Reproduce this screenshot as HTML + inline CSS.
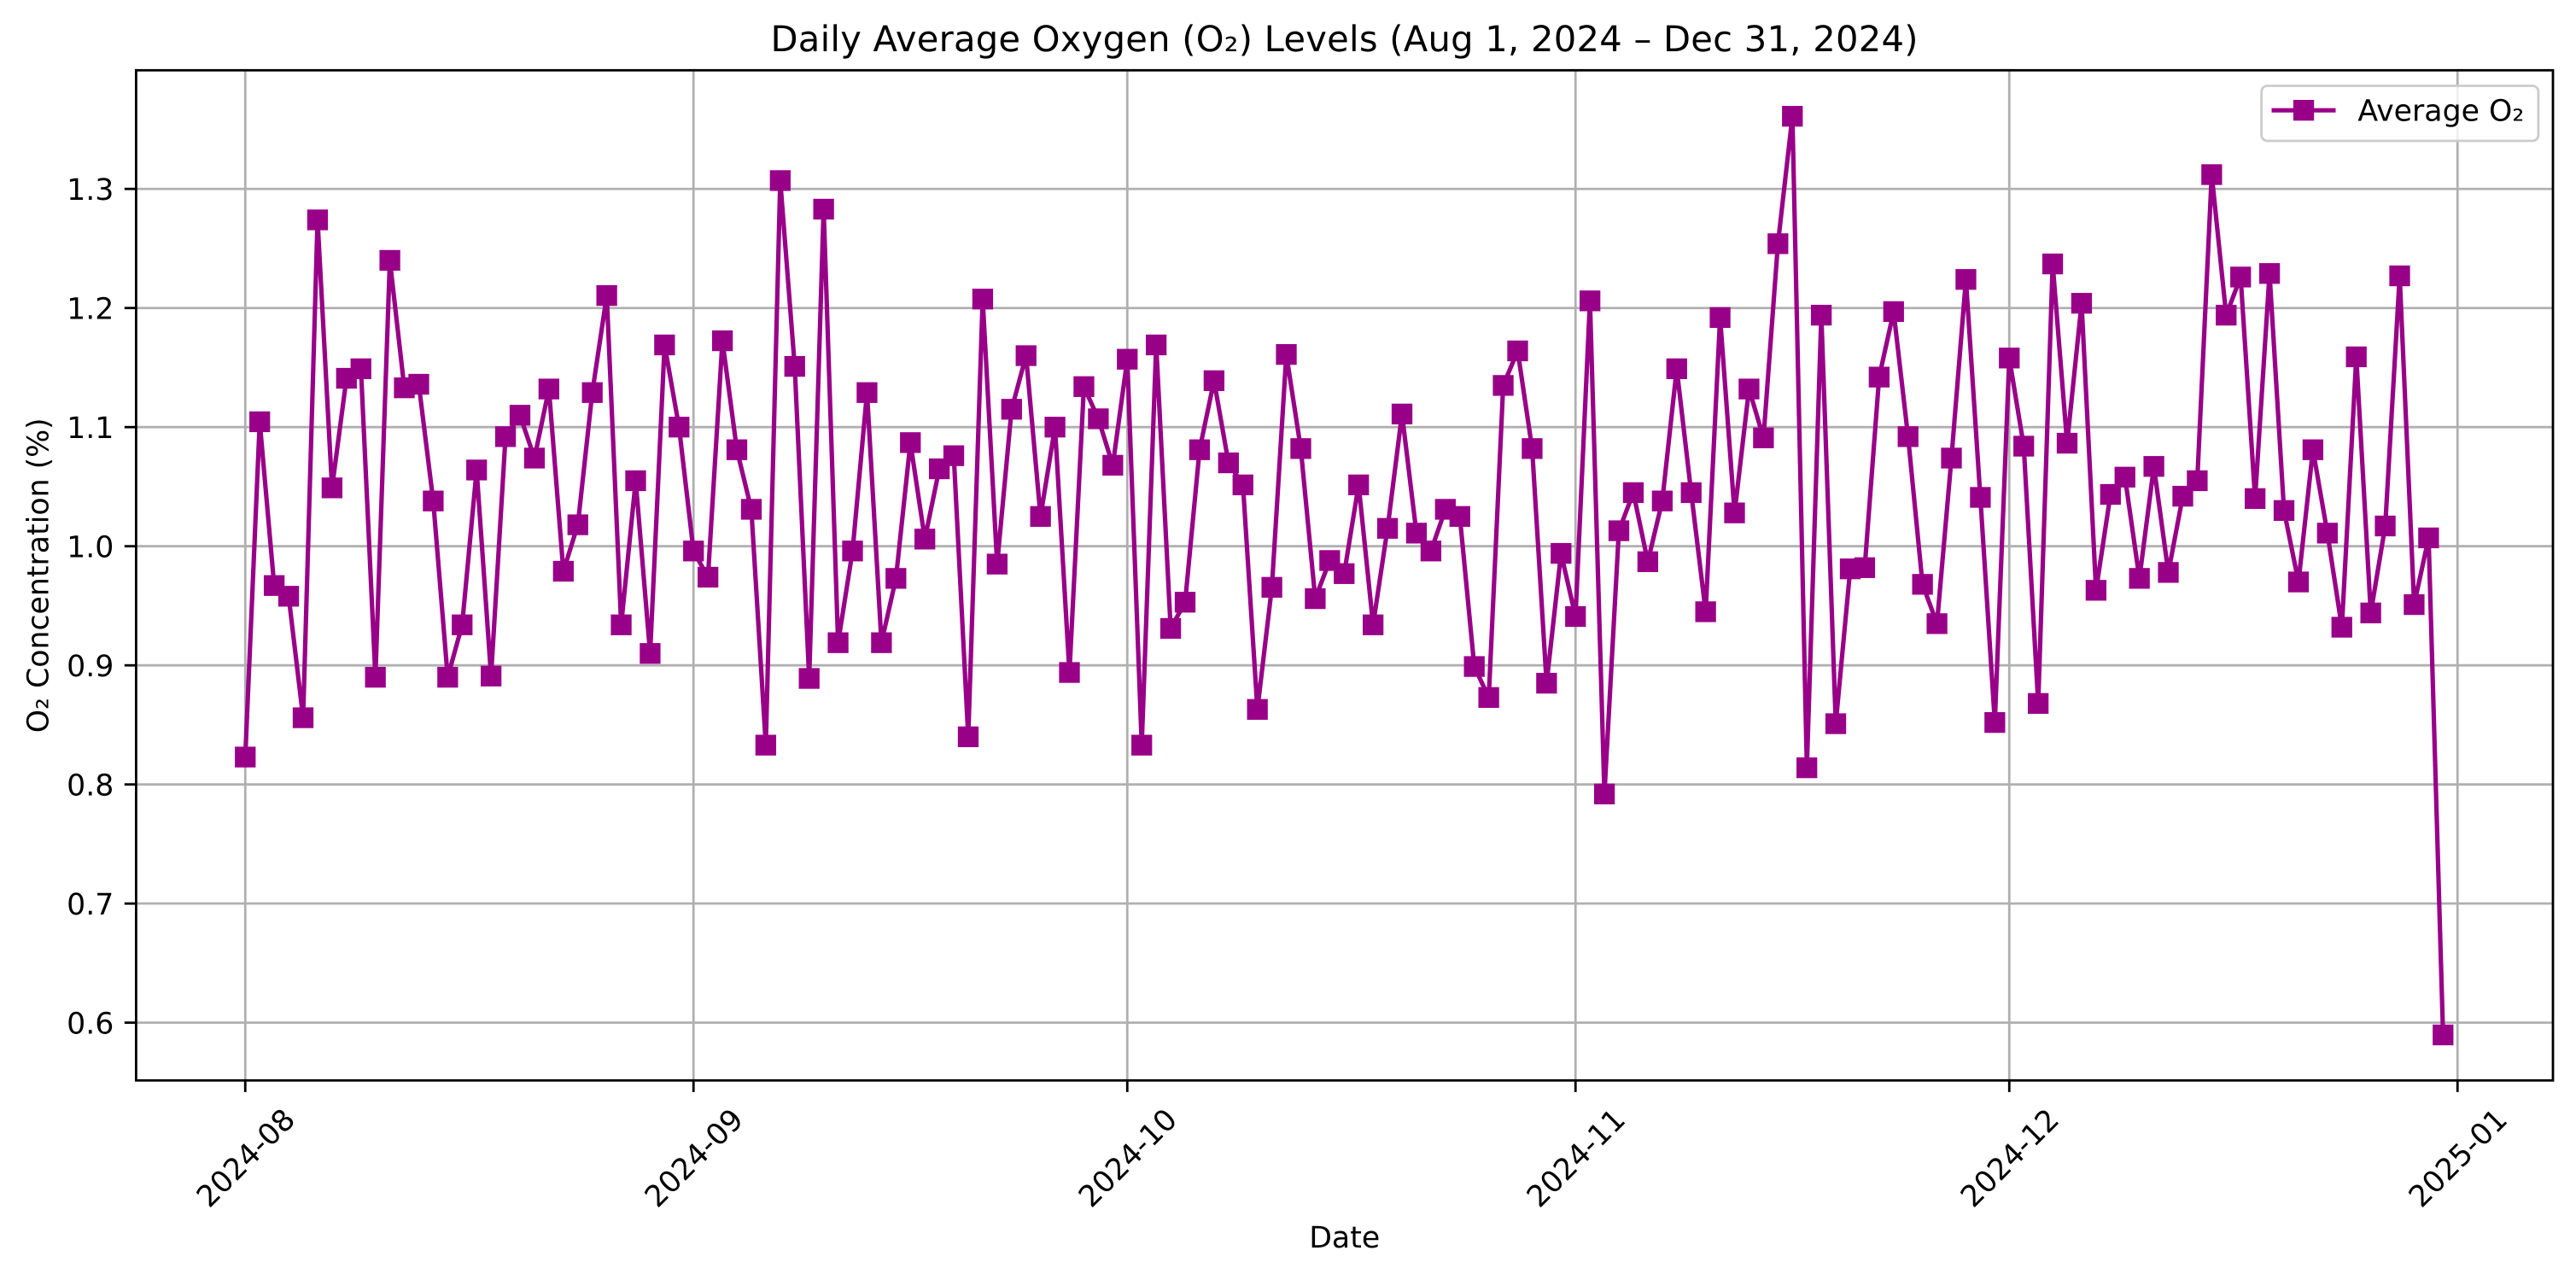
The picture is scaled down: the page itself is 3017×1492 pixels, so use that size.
<!DOCTYPE html>
<html lang="en">
<head>
<meta charset="utf-8">
<title>Daily Average Oxygen (O₂) Levels</title>
<style>
  html, body { margin: 0; padding: 0; background: #fff; }
  svg { display: block; }
  text { font-family: "DejaVu Sans", "Liberation Sans", sans-serif; fill: #000; text-rendering: geometricPrecision; }
</style>
</head>
<body>
<svg id="chart" xmlns="http://www.w3.org/2000/svg" width="3017" height="1492" viewBox="0 0 3017 1492">
  <rect x="0" y="0" width="3017" height="1492" fill="#ffffff"/>
  <rect x="159.4" y="82.3" width="2830.6" height="1183" fill="#ffffff"/>
  <g id="grid"></g>
  <polyline id="series-line" fill="none" stroke="#990088" stroke-width="5.2" stroke-linejoin="round" stroke-linecap="square"/>
  <g id="markers"></g>
  <rect x="159.4" y="82.3" width="2830.6" height="1183" fill="none" stroke="#000" stroke-width="2.8"/>
  <g id="x-axis"></g>
  <g id="y-axis"></g>
  <text x="1574.5" y="60" font-size="41.67" text-anchor="middle" textLength="1344" lengthAdjust="spacing">Daily Average Oxygen (O₂) Levels (Aug 1, 2024 – Dec 31, 2024)</text>
  <text x="1574.7" y="1461" font-size="34.72" text-anchor="middle">Date</text>
  <text transform="translate(56.5 673.8) rotate(-90)" font-size="34.72" text-anchor="middle">O₂ Concentration (%)</text>
  <g>
    <rect x="2648.6" y="100.5" width="324.3" height="64.5" rx="7" ry="7" fill="#ffffff" fill-opacity="0.8" stroke="#cccccc" stroke-width="2.8"/>
    <line x1="2660.5" y1="129.2" x2="2735.5" y2="129.2" stroke="#990088" stroke-width="5.2"/>
    <rect x="2685.9" y="117" width="24.3" height="24.3" fill="#990088"/>
    <text x="2761.4" y="141.6" font-size="34.72">Average O₂</text>
  </g>
</svg>
<script>
const o2Values = [
  0.823, 1.1045, 0.967, 0.958, 0.856, 1.274, 1.049, 1.141, 1.149, 0.890,
  1.240, 1.133, 1.136, 1.038, 0.890, 0.934, 1.064, 0.891, 1.092, 1.110,
  1.074, 1.132, 0.979, 1.018, 1.129, 1.2105, 0.934, 1.055, 0.910, 1.169,
  1.100, 0.996, 0.974, 1.1725, 1.081, 1.031, 0.833, 1.307, 1.151, 0.889,
  1.283, 0.919, 0.996, 1.129, 0.919, 0.973, 1.087, 1.006, 1.065, 1.076,
  0.840, 1.2075, 0.985, 1.115, 1.160, 1.025, 1.100, 0.894, 1.134, 1.107,
  1.068, 1.157, 0.833, 1.169, 0.931, 0.953, 1.081, 1.139, 1.070, 1.0515,
  0.863, 0.9655, 1.161, 1.082, 0.956, 0.988, 0.977, 1.0515, 0.934, 1.015,
  1.111, 1.011, 0.996, 1.031, 1.025, 0.899, 0.873, 1.135, 1.164, 1.082,
  0.885, 0.994, 0.941, 1.206, 0.792, 1.013, 1.045, 0.987, 1.038, 1.149,
  1.045, 0.945, 1.192, 1.028, 1.132, 1.091, 1.254, 1.361, 0.814, 1.194,
  0.851, 0.981, 0.982, 1.142, 1.197, 1.092, 0.968, 0.935, 1.074, 1.224,
  1.041, 0.852, 1.158, 1.084, 0.868, 1.237, 1.0865, 1.204, 0.963, 1.0435,
  1.058, 0.973, 1.067, 0.978, 1.042, 1.055, 1.312, 1.194, 1.226, 1.040,
  1.229, 1.030, 0.970, 1.081, 1.011, 0.932, 1.159, 0.944, 1.017, 1.227,
  0.951, 1.007, 0.5897
];
const startDate = '2024-08-01';
const dates = o2Values.map(function (v, i) {
  return new Date(Date.parse(startDate) + i * 86400000).toISOString().slice(0, 10);
});
const xTickDates = ['2024-08-01', '2024-09-01', '2024-10-01', '2024-11-01', '2024-12-01', '2025-01-01'];
const xTickLabels = ['2024-08', '2024-09', '2024-10', '2024-11', '2024-12', '2025-01'];
const yTickValues = [0.6, 0.7, 0.8, 0.9, 1.0, 1.1, 1.2, 1.3];
const yTickLabels = ['0.6', '0.7', '0.8', '0.9', '1.0', '1.1', '1.2', '1.3'];

const SVG_NS = 'http://www.w3.org/2000/svg';
const plotLeft = 159.4, plotRight = 2990, plotTop = 82.3, plotBottom = 1265.3;
const xDomainStart = Date.parse('2024-08-01') - 7.55 * 86400000;
const xDomainEnd = Date.parse('2024-12-31') + 7.6 * 86400000;
const yDomainMin = 0.5515, yDomainMax = 1.3996;

function xScale(dateString) {
  const t = (Date.parse(dateString) - xDomainStart) / (xDomainEnd - xDomainStart);
  return plotLeft + t * (plotRight - plotLeft);
}
function yScale(value) {
  const t = (value - yDomainMin) / (yDomainMax - yDomainMin);
  return plotBottom - t * (plotBottom - plotTop);
}
function make(tag, attrs, parent) {
  const el = document.createElementNS(SVG_NS, tag);
  Object.keys(attrs).forEach(function (k) { el.setAttribute(k, attrs[k]); });
  parent.appendChild(el);
  return el;
}

const gridGroup = document.getElementById('grid');
const xAxisGroup = document.getElementById('x-axis');
const yAxisGroup = document.getElementById('y-axis');
const markerGroup = document.getElementById('markers');

xTickDates.forEach(function (d, i) {
  const x = xScale(d);
  const grid = make('line', { x1: x, x2: x, y1: plotTop, y2: plotBottom, stroke: '#b0b0b0', 'stroke-width': 2.8 }, gridGroup);
  
  
  const tick = make('line', { x1: x, x2: x, y1: plotBottom, y2: plotBottom + 13.6, stroke: '#000', 'stroke-width': 2.8 }, xAxisGroup);
  
  
  const label = make('text', { transform: 'translate(' + x + ' 1355.5) rotate(-45)', y: 12.7, 'font-size': 34.72, 'text-anchor': 'middle' }, xAxisGroup);
  label.textContent = xTickLabels[i];
  
  
});

yTickValues.forEach(function (v, i) {
  const y = yScale(v);
  const grid = make('line', { x1: plotLeft, x2: plotRight, y1: y, y2: y, stroke: '#b0b0b0', 'stroke-width': 2.8 }, gridGroup);
  
  
  const tick = make('line', { x1: plotLeft - 13.6, x2: plotLeft, y1: y, y2: y, stroke: '#000', 'stroke-width': 2.8 }, yAxisGroup);
  
  
  const label = make('text', { x: 133.4, y: y + 12.7, 'font-size': 34.72, 'text-anchor': 'end' }, yAxisGroup);
  label.textContent = yTickLabels[i];
  
  
});

document.getElementById('series-line').setAttribute('points', o2Values.map(function (v, i) {
  return xScale(dates[i]).toFixed(2) + ',' + yScale(v).toFixed(2);
}).join(' '));

const markerSize = 24.3;
o2Values.forEach(function (v, i) {
  const marker = make('rect', {
    x: xScale(dates[i]) - markerSize / 2,
    y: yScale(v) - markerSize / 2,
    width: markerSize,
    height: markerSize,
    fill: '#990088'
  }, markerGroup);
  
  
});
</script>
</body>
</html>
